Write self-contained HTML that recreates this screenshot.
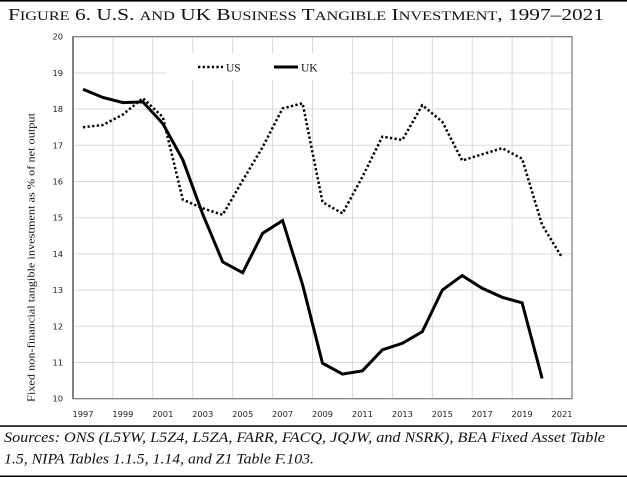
<!DOCTYPE html>
<html>
<head>
<meta charset="utf-8">
<style>
  html,body{margin:0;padding:0;background:#fff;}
  body{width:627px;height:477px;overflow:hidden;}
  svg{display:block;}
  .tick{font-family:"DejaVu Sans","Liberation Sans",sans-serif;font-size:8.3px;fill:#222;}
  .serif{font-family:"Liberation Serif",serif;}
</style>
</head>
<body>
<svg width="627" height="477" viewBox="0 0 627 477" xmlns="http://www.w3.org/2000/svg">
  <rect x="0" y="0" width="627" height="477" fill="#fff"/>
  <!-- top rule -->
  <rect x="0" y="0" width="627" height="1.6" fill="#000"/>
  <!-- title -->
  <text class="serif" x="8" y="20" font-size="16.5" fill="#111" textLength="596" lengthAdjust="spacingAndGlyphs">F<tspan font-size="12.6">IGURE</tspan> 6. U.S. <tspan font-size="12.6">AND</tspan> UK B<tspan font-size="12.6">USINESS</tspan> T<tspan font-size="12.6">ANGIBLE</tspan> I<tspan font-size="12.6">NVESTMENT</tspan>, 1997–2021</text>

  <!-- gridlines -->
  <g stroke="#d9d9d9" stroke-width="1">
    <line x1="73" y1="362.5" x2="572" y2="362.5"/>
    <line x1="73" y1="326.3" x2="572" y2="326.3"/>
    <line x1="73" y1="290.1" x2="572" y2="290.1"/>
    <line x1="73" y1="253.9" x2="572" y2="253.9"/>
    <line x1="73" y1="217.7" x2="572" y2="217.7"/>
    <line x1="73" y1="181.5" x2="572" y2="181.5"/>
    <line x1="73" y1="145.3" x2="572" y2="145.3"/>
    <line x1="73" y1="109.1" x2="572" y2="109.1"/>
    <line x1="73" y1="72.9" x2="572" y2="72.9"/>
    <line x1="112.9" y1="36.7" x2="112.9" y2="398.7"/>
    <line x1="152.8" y1="36.7" x2="152.8" y2="398.7"/>
    <line x1="192.8" y1="36.7" x2="192.8" y2="398.7"/>
    <line x1="232.7" y1="36.7" x2="232.7" y2="398.7"/>
    <line x1="272.6" y1="36.7" x2="272.6" y2="398.7"/>
    <line x1="312.5" y1="36.7" x2="312.5" y2="398.7"/>
    <line x1="352.4" y1="36.7" x2="352.4" y2="398.7"/>
    <line x1="392.4" y1="36.7" x2="392.4" y2="398.7"/>
    <line x1="432.3" y1="36.7" x2="432.3" y2="398.7"/>
    <line x1="472.2" y1="36.7" x2="472.2" y2="398.7"/>
    <line x1="512.1" y1="36.7" x2="512.1" y2="398.7"/>
    <line x1="552.0" y1="36.7" x2="552.0" y2="398.7"/>
  </g>
  <!-- plot border -->
  <rect x="73" y="36.7" width="499" height="362" fill="none" stroke="#777" stroke-width="1.2"/>
  <line x1="73" y1="36.7" x2="73" y2="398.7" stroke="#555" stroke-width="1.4"/>

  <!-- legend -->
  <rect x="167" y="53" width="183" height="27" fill="#fff"/>
  <line x1="198" y1="67" x2="223" y2="67" stroke="#000" stroke-width="2.4" stroke-dasharray="2.3 2.3"/>
  <text class="serif" x="226" y="71.5" font-size="11.5" fill="#111">US</text>
  <line x1="274" y1="67" x2="298" y2="67" stroke="#000" stroke-width="3"/>
  <text class="serif" x="301" y="71.5" font-size="11.5" fill="#111">UK</text>

  <!-- US dotted -->
  <polyline fill="none" stroke="#000" stroke-width="2.5" stroke-dasharray="2.3 2.3" stroke-linejoin="round"
    points="83.0,127.2 102.9,125.0 122.9,114.5 142.9,98.2 162.8,117.1 182.8,199.6 202.7,208.3 222.7,214.8 242.7,180.4 262.6,147.1 282.6,108.4 302.6,103.3 322.5,202.1 342.5,213.4 362.4,176.8 382.4,136.6 402.4,139.9 422.3,105.1 442.3,121.8 462.2,160.5 482.2,154.3 502.2,148.2 522.1,158.7 542.1,224.9 562.0,257.5"/>
  <!-- UK solid -->
  <polyline fill="none" stroke="#000" stroke-width="3" stroke-linejoin="miter"
    points="83.0,89.2 102.9,97.5 122.9,102.6 142.9,101.9 162.8,123.6 182.8,159.8 202.7,214.1 222.7,261.9 242.7,272.7 262.6,233.3 282.6,220.6 302.6,284.7 322.5,363.2 342.5,374.1 362.4,370.8 382.4,349.8 402.4,343.3 422.3,331.7 442.3,290.1 462.2,275.6 482.2,288.3 502.2,297.3 522.1,302.8 542.1,378.4"/>

  <!-- y tick labels -->
  <g class="tick" text-anchor="end">
    <text x="63" y="39.7">20</text>
    <text x="63" y="75.9">19</text>
    <text x="63" y="112.1">18</text>
    <text x="63" y="148.3">17</text>
    <text x="63" y="184.5">16</text>
    <text x="63" y="220.7">15</text>
    <text x="63" y="256.9">14</text>
    <text x="63" y="293.1">13</text>
    <text x="63" y="329.3">12</text>
    <text x="63" y="365.5">11</text>
    <text x="63" y="401.7">10</text>
  </g>
  <!-- x tick labels -->
  <g class="tick" text-anchor="middle">
    <text x="83.0" y="417">1997</text>
    <text x="122.9" y="417">1999</text>
    <text x="162.8" y="417">2001</text>
    <text x="202.7" y="417">2003</text>
    <text x="242.7" y="417">2005</text>
    <text x="282.6" y="417">2007</text>
    <text x="322.5" y="417">2009</text>
    <text x="362.4" y="417">2011</text>
    <text x="402.4" y="417">2013</text>
    <text x="442.3" y="417">2015</text>
    <text x="482.2" y="417">2017</text>
    <text x="522.1" y="417">2019</text>
    <text x="562.0" y="417">2021</text>
  </g>

  <!-- y axis title -->
  <text class="serif" transform="translate(34.5,257.5) rotate(-90)" text-anchor="middle" font-size="10.5" fill="#111" textLength="289" lengthAdjust="spacingAndGlyphs">Fixed non-financial tangible investment as % of net output</text>

  <!-- rules and sources -->
  <rect x="0" y="425.3" width="627" height="1.5" fill="#000"/>
  <text class="serif" x="4" y="442" font-size="15" font-style="italic" fill="#111" textLength="601" lengthAdjust="spacingAndGlyphs">Sources: ONS (L5YW, L5Z4, L5ZA, FARR, FACQ, JQJW, and NSRK), BEA Fixed Asset Table</text>
  <text class="serif" x="4" y="463.3" font-size="15" font-style="italic" fill="#111" textLength="310" lengthAdjust="spacingAndGlyphs">1.5, NIPA Tables 1.1.5, 1.14, and Z1 Table F.103.</text>
  <rect x="0" y="475.5" width="627" height="1.5" fill="#000"/>
</svg>
</body>
</html>
